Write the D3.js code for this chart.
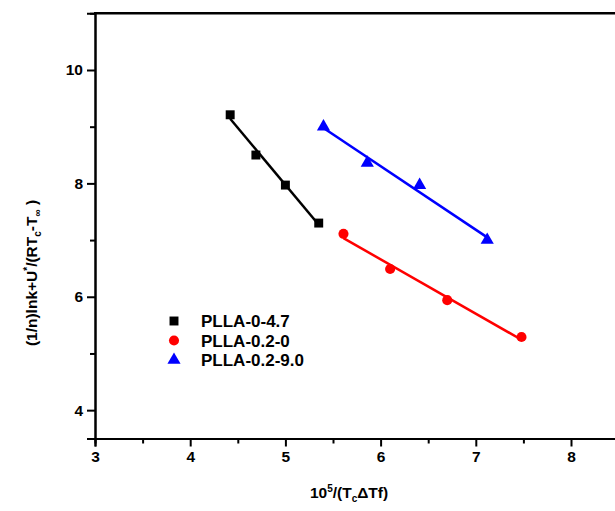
<!DOCTYPE html>
<html>
<head>
<meta charset="utf-8">
<script src="https://cdn.jsdelivr.net/npm/d3@7"></script>
<style>
  body { margin: 0; background: #fff; }
  text { font-family: "Liberation Sans", Arial, sans-serif; font-weight: bold; }
</style>
</head>
<body>
<svg class="chart" width="615" height="511"></svg>
<script>
// data
var seriesNames = ["PLLA-0-4.7", "PLLA-0.2-0", "PLLA-0.2-9.0"];
var xBlack = [4.42, 4.69, 5.00, 5.35];
var yBlack = [9.21, 8.50, 7.97, 7.30];
var xRed = [5.61, 6.10, 6.70, 7.48];
var yRed = [7.11, 6.49, 5.94, 5.29];
var xBlue = [5.40, 5.86, 6.41, 7.12];
var yBlue = [9.00, 8.36, 7.97, 7.00];
var xTicks = [3, 4, 5, 6, 7, 8];
var yTicks = [4, 6, 8, 10];

var colors = ["#000000", "#ff0000", "#0000ff"];
var symbols = [d3.symbolSquare, d3.symbolCircle, d3.symbolTriangle];
var symSizes = [80, 80, 75];

var series = [
  { name: seriesNames[0], xs: xBlack, ys: yBlack },
  { name: seriesNames[1], xs: xRed, ys: yRed },
  { name: seriesNames[2], xs: xBlue, ys: yBlue }
];

var vis = d3.select(".chart"),
    WIDTH = 615,
    HEIGHT = 511;

var xScale = d3.scaleLinear().domain([3, 8.5]).range([95, 618.6]),
    yScale = d3.scaleLinear().domain([3.5, 11]).range([438.5, 13.3]);

// axes
var xAxis = d3.axisBottom(xScale).tickValues(xTicks).tickFormat(d3.format("d")).tickSize(8).tickPadding(4);
var xMinor = d3.axisBottom(xScale).tickValues([3.5, 4.5, 5.5, 6.5, 7.5]).tickFormat("").tickSize(5);
var yAxis = d3.axisLeft(yScale).tickValues(yTicks).tickFormat(d3.format("d")).tickSize(8).tickPadding(4);
var yMinor = d3.axisLeft(yScale).tickValues([5, 7, 9]).tickFormat("").tickSize(5);

function styleAxis(g) {
  g.selectAll("path").attr("stroke", "#000").attr("stroke-width", 2);
  g.selectAll("line").attr("stroke", "#000").attr("stroke-width", 2);
  g.selectAll("text").attr("fill", "#000").style("font-size", "15.5px")
    .style("font-family", '"Liberation Sans", Arial, sans-serif').style("font-weight", "bold");
}

vis.append("g").attr("transform", "translate(0," + yScale(3.5) + ")").call(xMinor).call(styleAxis);
vis.append("g").attr("transform", "translate(0," + yScale(3.5) + ")").call(xAxis).call(styleAxis);
vis.append("g").attr("transform", "translate(" + xScale(3) + ",0)").call(yMinor).call(styleAxis);
vis.append("g").attr("transform", "translate(" + xScale(3) + ",0)").call(yAxis).call(styleAxis);

// top frame line
vis.append("line")
  .attr("x1", xScale(3) - 1).attr("x2", WIDTH)
  .attr("y1", yScale(11)).attr("y2", yScale(11))
  .attr("stroke", "#000").attr("stroke-width", 2.5);

// fitted lines (least squares through each series)
series.forEach(function (s, i) {
  var mx = d3.mean(s.xs), my = d3.mean(s.ys);
  var num = d3.sum(s.xs, function (x, j) { return (x - mx) * (s.ys[j] - my); });
  var den = d3.sum(s.xs, function (x) { return (x - mx) * (x - mx); });
  var b = num / den, a = my - b * mx;
  var ends = d3.extent(s.xs);
  vis.append("path")
    .attr("d", d3.line()
      .x(function (d) { return xScale(d); })
      .y(function (d) { return yScale(a + b * d); })(ends))
    .attr("stroke", colors[i]).attr("stroke-width", 2.5).attr("fill", "none");
});

// points
series.forEach(function (s, i) {
  vis.append("g").selectAll("path")
    .data(s.xs)
    .enter().append("path")
    .attr("transform", function (d, j) { return "translate(" + xScale(d) + "," + yScale(s.ys[j]) + ")"; })
    .attr("d", d3.symbol().type(symbols[i]).size(symSizes[i]))
    .attr("fill", colors[i]);
});

// legend
var legend = vis.append("g").attr("transform", "translate(174,321)");
series.forEach(function (s, i) {
  var row = legend.append("g").attr("transform", "translate(0," + (i * 19.5) + ")");
  row.append("path")
    .attr("d", d3.symbol().type(symbols[i]).size(symSizes[i]))
    .attr("fill", colors[i]);
  row.append("text")
    .attr("x", 27).attr("y", 6)
    .style("font-size", "17px")
    .text(s.name);
});

// axis titles
var xt = vis.append("text")
  .attr("x", 349).attr("y", 498)
  .attr("text-anchor", "middle")
  .style("font-size", "15.5px");
xt.append("tspan").text("10");
xt.append("tspan").attr("dy", -6).style("font-size", "10px").text("5");
xt.append("tspan").attr("dy", 6).text("/(T");
xt.append("tspan").attr("dy", 4).style("font-size", "10px").text("c");
xt.append("tspan").attr("dy", -4).text("\u0394Tf)");

var yt = vis.append("text")
  .attr("transform", "translate(37,273) rotate(-90)")
  .attr("text-anchor", "middle")
  .style("font-size", "15.5px");
yt.append("tspan").text("(1/n)lnk+U");
yt.append("tspan").attr("dy", -6).style("font-size", "10px").text("*");
yt.append("tspan").attr("dy", 6).text("/(RT");
yt.append("tspan").attr("dy", 4).style("font-size", "10px").text("c");
yt.append("tspan").attr("dy", -4).text("-T");
yt.append("tspan").attr("dy", 4).style("font-size", "10px").text("\u221e");
yt.append("tspan").attr("dy", -4).text(" )");
</script>
</body>
</html>
